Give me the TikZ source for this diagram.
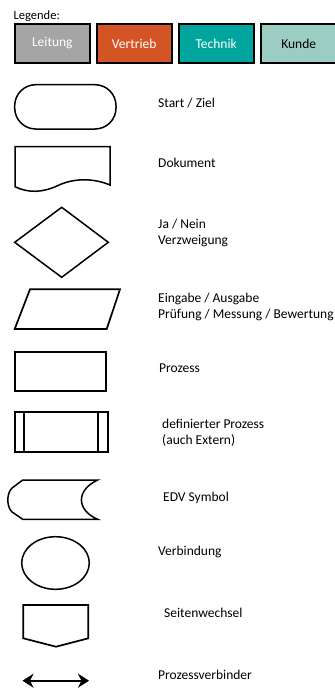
\documentclass[tikz,border=0pt]{standalone}
\usepackage{fontspec}
\setmainfont{Carlito}
\usetikzlibrary{arrows.meta}
\definecolor{leitung}{RGB}{165,165,165}
\definecolor{vertrieb}{RGB}{211,85,38}
\definecolor{technik}{RGB}{0,166,157}
\definecolor{kunde}{RGB}{155,205,194}
\tikzset{
  legbox/.style={draw=black,line width=2pt,minimum width=75pt,minimum height=38.5pt,inner sep=0pt,font=\fontsize{13.5}{16}\selectfont},
  shp/.style={draw=black,line width=1.7pt,line join=miter},
  lbl/.style={anchor=west,inner sep=0pt,align=left,font=\fontsize{13.5}{16.3}\selectfont},
  pvtip/.tip={Stealth[length=11pt,width=14pt,inset=3.5pt]}
}
\begin{document}
\begin{tikzpicture}[x=1pt,y=-1pt]
\useasboundingbox (0,0) rectangle (335,689);
% legend
\node[anchor=west,inner sep=0pt,font=\fontsize{12.5}{15}\selectfont] (legende) at (13.5,16.5) {Legende:};
\node[legbox,fill=leitung,text=white] (leitung) at (52.3,43.5) {Leitung};
\node[legbox,fill=vertrieb,text=white] (vertrieb) at (134.2,43.5) {Vertrieb};
\node[legbox,fill=technik,text=white] (technik) at (216.2,43.5) {Technik};
\node[legbox,fill=kunde,text=black] (kunde) at (298.7,43.5) {Kunde};
% Start / Ziel
\draw[shp,line width=1.5pt,rounded corners=21pt] (14.7,84.7) rectangle (116,129);
\node[lbl] (start) at (158,102.7) {Start / Ziel};
% Dokument
\draw[shp,line width=1.5pt] (15,146.7) -- (110,146.7) -- (110,185)
  .. controls (96,179) and (76,177) .. (58,185.5)
  .. controls (42,193) and (28,193) .. (15,186.7) -- cycle;
\node[lbl] (dok) at (158,163) {Dokument};
% Verzweigung
\draw[shp,line width=1.5pt] (61.7,207.3) -- (108.3,242.3) -- (61.7,277.3) -- (14.7,242.3) -- cycle;
\node[lbl] (ja) at (158,233.3) {Ja / Nein\\Verzweigung};
% Eingabe
\draw[shp] (30,289.3) -- (120,289.3) -- (106.7,329) -- (14.7,329) -- cycle;
\node[lbl] (ein) at (158,307) {Eingabe / Ausgabe\\Prüfung / Messung / Bewertung};
% Prozess
\draw[shp] (14.7,351.7) rectangle (106,390.7);
\node[lbl] (proz) at (159,368.3) {Prozess};
% definierter Prozess
\draw[shp] (14.7,412.3) rectangle (107.7,452.3);
\draw[shp] (24,412.3) -- (24,452.3);
\draw[shp] (98.3,412.3) -- (98.3,452.3);
\node[lbl] (def) at (162,432.8) {definierter Prozess\\(auch Extern)};
% EDV
\draw[shp,line width=1.5pt] (22.7,480) -- (97.7,480)
  .. controls (76,490) and (76,510) .. (97.7,519.3)
  -- (22.7,519.3) -- (11.7,511.7)
  .. controls (6.5,506) and (6.5,494) .. (11.7,488.3) -- cycle;
\node[lbl] (edv) at (163,498) {EDV Symbol};
% Verbindung
\draw[shp,line width=1.5pt] (55.5,563) ellipse [x radius=33.8pt, y radius=26.3pt];
\node[lbl] (verb) at (158,552.3) {Verbindung};
% Seitenwechsel
\draw[shp] (23.3,605) -- (88.3,605) -- (88.3,638.3) -- (56,646.7) -- (23.3,638.3) -- cycle;
\node[lbl] (seite) at (164,613.3) {Seitenwechsel};
% Prozessverbinder
\coordinate (pa) at (22.5,680.7);
\coordinate (pb) at (89,680.7);
\draw[line width=1.8pt,pvtip-pvtip] (pa) -- (pb);
\node[lbl] (pv) at (158,675) {Prozessverbinder};
\end{tikzpicture}
\end{document}
